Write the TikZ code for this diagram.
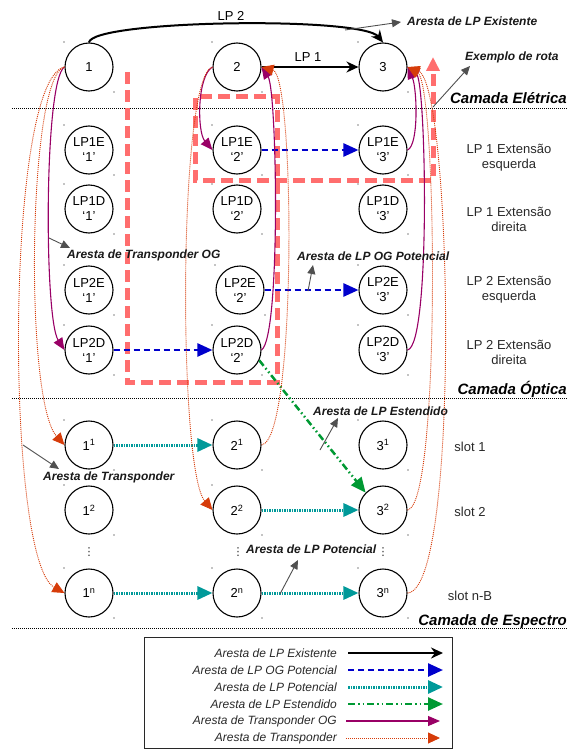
\documentclass[tikz,border=0pt]{standalone}
\usepackage{fontspec}
\setmainfont{Liberation Sans}
\newfontfamily\dejavu{DejaVu Sans}
\usetikzlibrary{arrows.meta}
\definecolor{ogblue}{RGB}{0,0,204}
\definecolor{lpteal}{RGB}{0,153,153}
\definecolor{lpgreen}{RGB}{0,153,51}
\definecolor{trpurple}{RGB}{153,0,102}
\definecolor{trorange}{RGB}{214,60,10}
\definecolor{routecol}{RGB}{255,110,110}
\definecolor{pointcol}{RGB}{80,80,80}
\definecolor{txtgray}{RGB}{40,40,40}
\definecolor{annotcol}{RGB}{25,25,25}
\begin{document}
\begin{tikzpicture}[x=1pt,y=-1pt,
  vnode/.style={circle,draw=black,fill=white,line width=1.1pt,minimum size=48pt,inner sep=0pt,align=center,font=\fontsize{13}{15}\selectfont},
  existing/.style={line width=2pt,-{Stealth[length=12pt,width=11pt]}},
  ogpot/.style={ogblue,line width=2.5pt,dash pattern=on 6pt off 4pt,-{Triangle[length=15pt,width=13pt]}},
  lppot/.style={lpteal,line width=3pt,dash pattern=on 1.5pt off 1pt,-{Triangle[length=15pt,width=13pt]}},
  lpext/.style={lpgreen,line width=2.5pt,dash pattern=on 7pt off 3pt on 1.5pt off 3pt on 1.5pt off 3pt,-{Triangle[length=15pt,width=13pt]}},
  trog/.style={trpurple,line width=1.1pt,-{Triangle[length=12pt,width=10pt]}},
  trans/.style={trorange,line width=0.9pt,dash pattern=on 1pt off 1pt,-{Triangle[length=12pt,width=11pt]}},
  pointer/.style={pointcol,line width=0.9pt,-{Triangle[length=9pt,width=8pt]}},
  annot/.style={anchor=west,inner sep=0pt,text=annotcol,font=\bfseries\itshape\fontsize{12}{14}\selectfont},
  layer/.style={anchor=base east,inner sep=0pt,font=\bfseries\itshape\fontsize{15}{18}\selectfont},
  sidelbl/.style={align=center,inner sep=0pt,text=txtgray,font=\fontsize{13}{15}\selectfont},
  legtxt/.style={anchor=east,inner sep=0pt,text=txtgray,font=\itshape\fontsize{12}{14}\selectfont},
  layerline/.style={line width=0.8pt,dash pattern=on 1pt off 1pt},
  routeline/.style={routecol,line width=5pt,dash pattern=on 12pt off 6pt,-{Triangle[length=14pt,width=13pt]}},
  vdotsnode/.style={inner sep=0pt,text=txtgray,font=\dejavu\fontsize{11}{11}\selectfont}
]
\useasboundingbox (0,0) rectangle (568,749);

% layer separators
\draw[layerline] (12,108) -- (568,108);
\draw[layerline] (12,398) -- (568,398);
\draw[layerline] (12,628) -- (568,628);
\node[layer] (le) at (567,104) {Camada Elétrica};
\node[layer] (lo) at (567,394) {Camada Óptica};
\node[layer] (ls) at (567,625) {Camada de Espectro};

% route example
\draw[routeline] (127,72) -- (127,382) -- (277,382) -- (277,97) -- (195,97) -- (195,180) -- (433,180) -- (433,57);

% nodes
\node[vnode] (n1) at (89,67) {1};
\node[vnode] (n2) at (237,67) {2};
\node[vnode] (n3) at (383,67) {3};
\node[vnode] (a1) at (89,150) {LP1E\\‘1’};
\node[vnode] (a2) at (237,150) {LP1E\\‘2’};
\node[vnode] (a3) at (383,150) {LP1E\\‘3’};
\node[vnode] (b1) at (89,209) {LP1D\\‘1’};
\node[vnode] (b2) at (237,209) {LP1D\\‘2’};
\node[vnode] (b3) at (383,209) {LP1D\\‘3’};
\node[vnode] (c1) at (89,290) {LP2E\\‘1’};
\node[vnode] (c2) at (240,290) {LP2E\\‘2’};
\node[vnode] (c3) at (383,290) {LP2E\\‘3’};
\node[vnode] (d1) at (89,350) {LP2D\\‘1’};
\node[vnode] (d2) at (237,350) {LP2D\\‘2’};
\node[vnode] (d3) at (383,350) {LP2D\\‘3’};
\node[vnode] (p1) at (89,445) {1\textsuperscript{1}};
\node[vnode] (p2) at (237,445) {2\textsuperscript{1}};
\node[vnode] (p3) at (383,445) {3\textsuperscript{1}};
\node[vnode] (q1) at (89,510) {1\textsuperscript{2}};
\node[vnode] (q2) at (237,510) {2\textsuperscript{2}};
\node[vnode] (q3) at (383,510) {3\textsuperscript{2}};
\node[vnode] (r1) at (89,593) {1\textsuperscript{n}};
\node[vnode] (r2) at (237,593) {2\textsuperscript{n}};
\node[vnode] (r3) at (383,593) {3\textsuperscript{n}};

\foreach \nm in {n1,n2,n3,a1,a2,a3,b1,b2,b3,c1,c2,c3,d1,d2,d3,p1,p2,p3,q1,q2,q3,r1,r2,r3}{
  \fill ([shift={(-25,-25)}]\nm.center) circle (0.6);
  \fill ([shift={(25,25)}]\nm.center) circle (0.6);
}

\node[vdotsnode] (v1) at (89,552) {⋮};
\node[vdotsnode] (v2) at (238,552) {⋮};
\node[vdotsnode] (v3) at (383,552) {⋮};

% side labels
\node[sidelbl] (t1) at (509,158) {LP 1 Extensão\\esquerda};
\node[sidelbl] (t2) at (509,219) {LP 1 Extensão\\direita};
\node[sidelbl] (t3) at (509,290) {LP 2 Extensão\\esquerda};
\node[sidelbl] (t4) at (509,352) {LP 2 Extensão\\direita};
\node[sidelbl] (t5) at (470,447) {slot 1};
\node[sidelbl] (t6) at (470,512) {slot 2};
\node[sidelbl] (t7) at (470,596) {slot n-B};

% existing LP edges
\draw[existing] (n1.north) .. controls (92,20) and (362,16) .. (n3.north);
\node[font=\fontsize{13}{15}\selectfont] (lp2) at (231,16) {LP 2};
\draw[existing] (n2.east) -- (n3.west);
\node[font=\fontsize{13}{15}\selectfont] (lp1) at (308,57) {LP 1};

% OG potential LP edges
\draw[ogpot] (a2.east) -- (a3.west);
\draw[ogpot] (c2.east) -- (c3.west);
\draw[ogpot] (d1.east) -- (d2.west);

% potential LP edges
\draw[lppot] (p1.east) -- (p2.west);
\draw[lppot] (q2.east) -- (q3.west);
\draw[lppot] (r1.east) -- (r2.west);
\draw[lppot] (r2.east) -- (r3.west);

% extended LP edge
\draw[lpext] (d2.-25) -- (q3.135);

% OG transponder edges
\draw[trog] (n1.west) .. controls (44,80) and (44,318) .. (d1.west);
\draw[trog] (n2.west) .. controls (197,76) and (197,132) .. (a2.west);
\draw[trog] (d2.east) .. controls (281,336) and (277,90) .. (n2.east);
\draw[trog] (a3.east) .. controls (419,145) and (417,88) .. (n3.east);
\draw[trog] (d3.east) .. controls (431,345) and (426,82) .. (n3.east);

% transponder edges
\draw[trans] (n1.west) .. controls (28,76) and (24,400) .. (p1.west);
\draw[trans] (n1.west) .. controls (5,80) and (5,560) .. (r1.west);
\draw[trans] (n2.west) .. controls (178,76) and (178,470) .. (q2.west);
\draw[trans] (p2.east) .. controls (297,440) and (295,76) .. (n2.east);
\draw[trans] (q3.east) .. controls (441,505) and (437,84) .. (n3.east);
\draw[trans] (r3.east) .. controls (461,590) and (452,84) .. (n3.east);

% annotations
\node[annot] (an1) at (407,21) {Aresta de LP Existente};
\coordinate (an1s) at (345,30);
\coordinate (an1e) at (401,22);
\draw[pointer] (an1s) -- (an1e);

\node[annot] (an2) at (465,57) {Exemplo de rota};
\coordinate (an2s) at (433,107);
\coordinate (an2e) at (470,66);
\draw[pointer] (an2s) -- (an2e);

\node[annot] (an3) at (67,255) {Aresta de Transponder OG};
\coordinate (an3s) at (49,238);
\coordinate (an3e) at (70,248);
\draw[pointer] (an3s) -- (an3e);

\node[annot] (an4) at (297,256) {Aresta de LP OG Potencial};
\coordinate (an4s) at (308,291);
\coordinate (an4e) at (313,265);
\draw[pointer] (an4s) -- (an4e);

\node[annot] (an5) at (313,411) {Aresta de LP Estendido};
\coordinate (an5s) at (320,450);
\coordinate (an5e) at (338,418);
\draw[pointer] (an5s) -- (an5e);

\node[annot] (an6) at (43,477) {Aresta de Transponder};
\coordinate (an6s) at (23,445);
\coordinate (an6e) at (59,469);
\draw[pointer] (an6s) -- (an6e);

\node[annot] (an7) at (246,549) {Aresta de LP Potencial};
\coordinate (an7s) at (280,594);
\coordinate (an7e) at (298,560);
\draw[pointer] (an7s) -- (an7e);

% legend
\draw[draw=txtgray,line width=1pt] (144,637) rectangle (452,748);
\node[legtxt] (lg1) at (337,653) {Aresta de LP Existente};
\node[legtxt] (lg2) at (337,670) {Aresta de LP OG Potencial};
\node[legtxt] (lg3) at (337,687) {Aresta de LP Potencial};
\node[legtxt] (lg4) at (337,704) {Aresta de LP Estendido};
\node[legtxt] (lg5) at (337,721) {Aresta de Transponder OG};
\node[legtxt] (lg6) at (337,738) {Aresta de Transponder};
\coordinate (la1) at (348,653); \coordinate (lb1) at (443,653);
\coordinate (la2) at (348,670); \coordinate (lb2) at (443,670);
\coordinate (la3) at (348,687); \coordinate (lb3) at (443,687);
\coordinate (la4) at (348,704); \coordinate (lb4) at (443,704);
\coordinate (la5) at (346,721); \coordinate (lb5) at (440,721);
\coordinate (la6) at (346,738); \coordinate (lb6) at (440,738);
\draw[existing] (la1) -- (lb1);
\draw[ogpot] (la2) -- (lb2);
\draw[lppot] (la3) -- (lb3);
\draw[lpext] (la4) -- (lb4);
\draw[trog] (la5) -- (lb5);
\draw[trans] (la6) -- (lb6);
\end{tikzpicture}
\end{document}
